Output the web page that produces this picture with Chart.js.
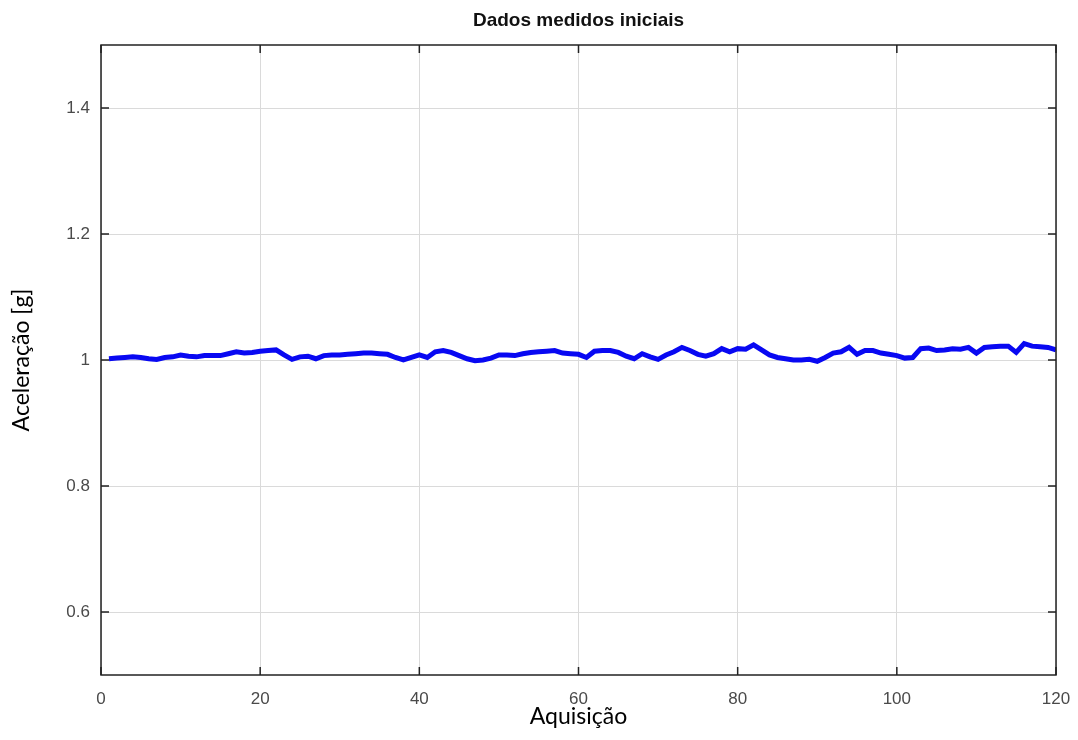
<!DOCTYPE html>
<html>
<head>
<meta charset="utf-8">
<title>Dados medidos iniciais</title>
<script src="https://cdn.jsdelivr.net/npm/chart.js@4.4.1/dist/chart.umd.min.js"></script>
<style>
  html, body { margin: 0; padding: 0; background: #fff; }
  #wrap { position: relative; width: 1078px; height: 740px; }
</style>
</head>
<body>
<div id="wrap"><canvas id="accChart"></canvas></div>
<script>
const chartTitle = "Dados medidos iniciais";
const xTitle = "Aquisição";
const yTitle = "Aceleração [g]";

const xTicks = [0, 20, 40, 60, 80, 100, 120];
const yTicks = [0.6, 0.8, 1, 1.2, 1.4];

// acquisition index 1..120
const acquisitions = [
  1, 2, 3, 4, 5, 6, 7, 8, 9, 10, 11, 12, 13, 14, 15, 16, 17, 18, 19, 20,
  21, 22, 23, 24, 25, 26, 27, 28, 29, 30, 31, 32, 33, 34, 35, 36, 37, 38, 39, 40,
  41, 42, 43, 44, 45, 46, 47, 48, 49, 50, 51, 52, 53, 54, 55, 56, 57, 58, 59, 60,
  61, 62, 63, 64, 65, 66, 67, 68, 69, 70, 71, 72, 73, 74, 75, 76, 77, 78, 79, 80,
  81, 82, 83, 84, 85, 86, 87, 88, 89, 90, 91, 92, 93, 94, 95, 96, 97, 98, 99, 100,
  101, 102, 103, 104, 105, 106, 107, 108, 109, 110, 111, 112, 113, 114, 115, 116, 117, 118, 119, 120,
];

const acceleration = [
  1.002, 1.003, 1.004, 1.005, 1.004, 1.002, 1.001, 1.004, 1.005, 1.008,
  1.006, 1.005, 1.007, 1.007, 1.007, 1.010, 1.013, 1.011, 1.012, 1.014,
  1.015, 1.016, 1.008, 1.001, 1.005, 1.006, 1.002, 1.007, 1.008, 1.008,
  1.009, 1.010, 1.011, 1.011, 1.010, 1.009, 1.004, 1.000, 1.004, 1.008,
  1.004, 1.013, 1.015, 1.012, 1.007, 1.002, 0.999, 1.000, 1.003, 1.008,
  1.008, 1.007, 1.010, 1.012, 1.013, 1.014, 1.015, 1.011, 1.010, 1.009,
  1.004, 1.014, 1.015, 1.015, 1.012, 1.006, 1.002, 1.010, 1.005, 1.001,
  1.008, 1.013, 1.020, 1.015, 1.009, 1.006, 1.010, 1.018, 1.013, 1.018,
  1.017, 1.024, 1.016, 1.008, 1.004, 1.002, 1.000, 1.000, 1.001, 0.998,
  1.004, 1.011, 1.013, 1.020, 1.009, 1.015, 1.015, 1.011, 1.009, 1.007,
  1.003, 1.004, 1.018, 1.019, 1.015, 1.016, 1.018, 1.017, 1.020, 1.011,
  1.020, 1.021, 1.022, 1.022, 1.012, 1.026, 1.022, 1.021, 1.020, 1.016,
];

const points = acquisitions.map((x, i) => ({ x, y: acceleration[i] }));

// octave style box: black frame, inward ticks, bold title over the axes
const framePlugin = {
  id: "frame",
  afterDraw(chart) {
    const { ctx, chartArea: a, scales } = chart;
    const tickLen = 8;
    ctx.save();
    ctx.strokeStyle = "#222";
    ctx.lineWidth = 1.5;
    ctx.strokeRect(a.left, a.top, a.right - a.left, a.bottom - a.top);
    ctx.beginPath();
    for (const v of xTicks) {
      const px = scales.x.getPixelForValue(v);
      ctx.moveTo(px, a.bottom);
      ctx.lineTo(px, a.bottom - tickLen);
      ctx.moveTo(px, a.top);
      ctx.lineTo(px, a.top + tickLen);
    }
    for (const v of yTicks) {
      const py = scales.y.getPixelForValue(v);
      ctx.moveTo(a.left, py);
      ctx.lineTo(a.left + tickLen, py);
      ctx.moveTo(a.right, py);
      ctx.lineTo(a.right - tickLen, py);
    }
    ctx.stroke();

    ctx.fillStyle = "#111";
    ctx.font = "bold 19px 'Liberation Sans', Arial, sans-serif";
    ctx.textAlign = "center";
    ctx.textBaseline = "alphabetic";
    ctx.fillText(chartTitle, (a.left + a.right) / 2, 26);
    ctx.restore();
  },
};

const ctx = document.getElementById("accChart");

new Chart(ctx, {
  type: "line",
  data: {
    datasets: [
      {
        label: yTitle,
        data: points,
        borderColor: "#0808f2",
        borderWidth: 5,
        pointRadius: 0,
        tension: 0,
        fill: false,
      },
    ],
  },
  options: {
    responsive: true,
    maintainAspectRatio: false,
    animation: false,
    layout: {
      padding: { top: 45, right: 22, left: 0, bottom: 0 },
    },
    scales: {
      x: {
        type: "linear",
        min: 0,
        max: 120,
        afterBuildTicks: (scale) => {
          scale.ticks = xTicks.map((value) => ({ value }));
        },
        afterFit: (scale) => {
          scale.height = 65;
          scale.paddingLeft = 0;
          scale.paddingRight = 0;
        },
        grid: { color: "#dadada", lineWidth: 1, drawTicks: false },
        border: { display: false },
        ticks: {
          padding: 14,
          color: "#4a4a4a",
          font: { family: "'Liberation Sans', Arial, sans-serif", size: 17 },
          maxRotation: 0,
        },
        title: {
          display: true,
          text: xTitle,
          color: "#000",
          font: { family: "Lato, 'Open Sans', sans-serif", size: 23 },
          padding: { top: 0, bottom: 10 },
        },
      },
      y: {
        min: 0.5,
        max: 1.5,
        afterBuildTicks: (scale) => {
          scale.ticks = yTicks.map((value) => ({ value }));
        },
        afterFit: (scale) => {
          scale.width = 101;
          scale.paddingTop = 0;
          scale.paddingBottom = 0;
        },
        grid: { color: "#dadada", lineWidth: 1, drawTicks: false },
        border: { display: false },
        ticks: {
          padding: 11,
          color: "#4a4a4a",
          font: { family: "'Liberation Sans', Arial, sans-serif", size: 17 },
          callback: (value) => String(value),
        },
        title: {
          display: true,
          text: yTitle,
          color: "#000",
          font: { family: "Lato, 'Open Sans', sans-serif", size: 23 },
          padding: { top: 8, bottom: 0 },
        },
      },
    },
    plugins: {
      legend: { display: false },
      title: { display: false },
      tooltip: { enabled: false },
    },
  },
  plugins: [framePlugin],
});
</script>
</body>
</html>
